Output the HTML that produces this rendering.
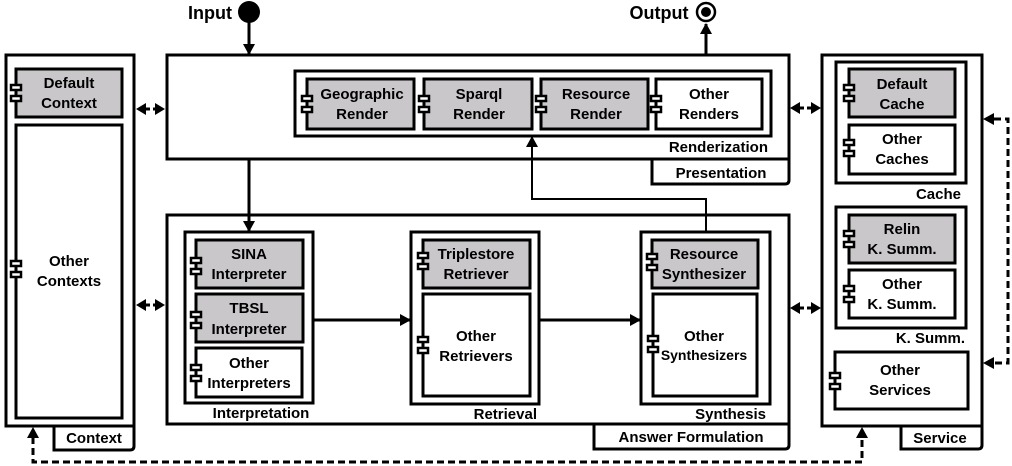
<!DOCTYPE html>
<html><head><meta charset="utf-8"><style>
html,body{margin:0;padding:0;background:#fff;}
svg{display:block;}
text{font-family:"Liberation Sans",sans-serif;font-weight:bold;font-size:15px;fill:#000;text-anchor:middle;}
.b{fill:#fff;stroke:#000;stroke-width:3;}
.g{fill:#c9c7ca;stroke:#000;stroke-width:3;}
.i{fill:#fff;stroke:#000;stroke-width:2.5;}
.l{stroke:#000;stroke-width:3;fill:none;}
.d{stroke:#000;stroke-width:3;fill:none;stroke-dasharray:7,4;}
.r{text-anchor:end;}
</style></head><body>
<svg width="1012" height="466" viewBox="0 0 1012 466" xmlns="http://www.w3.org/2000/svg">
<defs>
<marker id="as" markerWidth="12" markerHeight="12" refX="10" refY="6" orient="auto" markerUnits="userSpaceOnUse"><path d="M0,0 L11,6 L0,12 Z" fill="#000"/></marker>
</defs>

<text x="210" y="19" style="font-size:18px">Input</text>
<circle cx="249" cy="12" r="11" fill="#000"/>
<line class="l" x1="249" y1="22" x2="249" y2="54" marker-end="url(#as)"/>
<text x="659" y="19" style="font-size:18px">Output</text>
<circle cx="706" cy="12" r="9" fill="#fff" stroke="#000" stroke-width="2.5"/>
<circle cx="706" cy="12" r="5" fill="#000"/>
<line class="l" x1="706" y1="55" x2="706" y2="24" marker-end="url(#as)"/>

<!-- Context -->
<path class="b" d="M54,426 V450 H130 Q134,450 134,446 V426"/>
<text x="94" y="443">Context</text>
<rect class="b" x="6" y="55" width="128" height="371"/>
<rect class="g" x="16" y="69" width="106" height="48"/>
<text x="69" y="88">Default</text><text x="69" y="108">Context</text>
<rect class="i" x="11" y="85" width="10" height="5"/><rect class="i" x="11" y="96" width="10" height="5"/>
<rect class="b" x="16" y="125" width="106" height="293"/>
<text x="69" y="266">Other</text><text x="69" y="286">Contexts</text>
<rect class="i" x="11" y="261" width="10" height="5"/><rect class="i" x="11" y="272" width="10" height="5"/>

<!-- Presentation -->
<path class="b" d="M652,159 V184 H785 Q789,184 789,180 V159"/>
<text x="721" y="178">Presentation</text>
<rect class="b" x="167" y="55" width="622" height="104"/>
<rect class="b" x="295" y="71" width="476" height="65"/>
<text class="r" x="768" y="152">Renderization</text>
<rect class="g" x="307" y="79" width="107" height="50"/>
<text x="362" y="99">Geographic</text><text x="362" y="119">Render</text>
<rect class="i" x="302" y="96" width="10" height="5"/><rect class="i" x="302" y="107" width="10" height="5"/>
<rect class="g" x="424" y="79" width="108" height="50"/>
<text x="479" y="99">Sparql</text><text x="479" y="119">Render</text>
<rect class="i" x="419" y="96" width="10" height="5"/><rect class="i" x="419" y="107" width="10" height="5"/>
<rect class="g" x="541" y="79" width="107" height="50"/>
<text x="596" y="99">Resource</text><text x="596" y="119">Render</text>
<rect class="i" x="536" y="96" width="10" height="5"/><rect class="i" x="536" y="107" width="10" height="5"/>
<rect class="b" x="656" y="79" width="106" height="50"/>
<text x="709" y="99">Other</text><text x="709" y="119">Renders</text>
<rect class="i" x="651" y="96" width="10" height="5"/><rect class="i" x="651" y="107" width="10" height="5"/>

<!-- Answer Formulation -->
<path class="b" d="M594,424 V449 H785 Q789,449 789,445 V424"/>
<text x="691" y="442">Answer Formulation</text>
<rect class="b" x="167" y="215" width="622" height="209"/>

<rect class="b" x="185" y="232" width="128" height="171"/>
<text x="261" y="418">Interpretation</text>
<rect class="g" x="196" y="240" width="107" height="48"/>
<text x="249" y="259">SINA</text><text x="249" y="279">Interpreter</text>
<rect class="i" x="191" y="258" width="10" height="5"/><rect class="i" x="191" y="269" width="10" height="5"/>
<rect class="g" x="196" y="294" width="107" height="48"/>
<text x="249" y="313">TBSL</text><text x="249" y="334">Interpreter</text>
<rect class="i" x="191" y="312" width="10" height="5"/><rect class="i" x="191" y="323" width="10" height="5"/>
<rect class="b" x="196" y="348" width="106" height="49"/>
<text x="249" y="368">Other</text><text x="249" y="388">Interpreters</text>
<rect class="i" x="191" y="365" width="10" height="5"/><rect class="i" x="191" y="376" width="10" height="5"/>

<rect class="b" x="411" y="232" width="128" height="172"/>
<text class="r" x="537" y="419">Retrieval</text>
<rect class="g" x="423" y="240" width="107" height="48"/>
<text x="476" y="259">Triplestore</text><text x="476" y="279">Retriever</text>
<rect class="i" x="418" y="253" width="10" height="5"/><rect class="i" x="418" y="264" width="10" height="5"/>
<rect class="b" x="423" y="294" width="107" height="102"/>
<text x="476" y="341">Other</text><text x="476" y="361">Retrievers</text>
<rect class="i" x="418" y="337" width="10" height="5"/><rect class="i" x="418" y="348" width="10" height="5"/>

<rect class="b" x="641" y="232" width="129" height="172"/>
<text class="r" x="766" y="419">Synthesis</text>
<rect class="g" x="652" y="240" width="106" height="48"/>
<text x="704" y="259">Resource</text><text x="704" y="279">Synthesizer</text>
<rect class="i" x="647" y="254" width="10" height="5"/><rect class="i" x="647" y="265" width="10" height="5"/>
<rect class="b" x="653" y="294" width="104" height="102"/>
<text x="704" y="341">Other</text><text x="704" y="360" style="font-size:14px">Synthesizers</text>
<rect class="i" x="648" y="336" width="10" height="5"/><rect class="i" x="648" y="347" width="10" height="5"/>

<!-- Service -->
<path class="b" d="M901,426 V449 H978 Q982,449 982,445 V426"/>
<text x="940" y="443">Service</text>
<rect class="b" x="822" y="55" width="160" height="371"/>
<rect class="b" x="836" y="62" width="130" height="121"/>
<text class="r" x="961" y="199">Cache</text>
<rect class="g" x="849" y="69" width="106" height="48"/>
<text x="902" y="89">Default</text><text x="902" y="109">Cache</text>
<rect class="i" x="844" y="85" width="10" height="5"/><rect class="i" x="844" y="96" width="10" height="5"/>
<rect class="b" x="849" y="125" width="106" height="49"/>
<text x="902" y="144">Other</text><text x="902" y="164">Caches</text>
<rect class="i" x="844" y="140" width="10" height="5"/><rect class="i" x="844" y="151" width="10" height="5"/>
<rect class="b" x="836" y="207" width="130" height="121"/>
<text class="r" x="965" y="343">K. Summ.</text>
<rect class="g" x="849" y="215" width="106" height="48"/>
<text x="902" y="234">Relin</text><text x="902" y="254">K. Summ.</text>
<rect class="i" x="844" y="231" width="10" height="5"/><rect class="i" x="844" y="242" width="10" height="5"/>
<rect class="b" x="849" y="270" width="106" height="48"/>
<text x="902" y="289">Other</text><text x="902" y="309">K. Summ.</text>
<rect class="i" x="844" y="286" width="10" height="5"/><rect class="i" x="844" y="297" width="10" height="5"/>
<rect class="b" x="835" y="352" width="133" height="57"/>
<text x="900" y="375">Other</text><text x="900" y="395">Services</text>
<rect class="i" x="830" y="373" width="10" height="5"/><rect class="i" x="830" y="384" width="10" height="5"/>

<!-- connectors -->
<line class="l" x1="249" y1="159" x2="249" y2="231" marker-end="url(#as)"/>
<polyline class="l" style="stroke-width:2" points="706,232 706,199 532,199 532,137" marker-end="url(#as)"/>
<line class="l" x1="313" y1="320" x2="410" y2="320" marker-end="url(#as)"/>
<line class="l" x1="539" y1="320" x2="640" y2="320" marker-end="url(#as)"/>

<line class="d" x1="146" y1="109" x2="156" y2="109" style="stroke-dasharray:4,3"/>
<path d="M136,109 L146,103 L146,115Z M165,109 L155,103 L155,115Z"/>
<line class="d" x1="146" y1="305" x2="156" y2="305" style="stroke-dasharray:4,3"/>
<path d="M136,305 L146,299 L146,311Z M165,305 L155,299 L155,311Z"/>
<line class="d" x1="800" y1="108" x2="811" y2="108" style="stroke-dasharray:4,3"/>
<path d="M790,108 L800,102 L800,114Z M821,108 L811,102 L811,114Z"/>
<line class="d" x1="800" y1="308" x2="811" y2="308" style="stroke-dasharray:4,3"/>
<path d="M790,308 L800,302 L800,314Z M821,308 L811,302 L811,314Z"/>

<polyline class="d" points="33,437 33,462 862,462 862,437"/>
<path d="M33,427 L27,438 L39,438Z M862,427 L856,438 L868,438Z"/>
<polyline class="d" points="994,119 1008,119 1008,363 994,363"/>
<path d="M983,119 L994,113 L994,125Z M983,363 L994,357 L994,369Z"/>
</svg>
</body></html>
